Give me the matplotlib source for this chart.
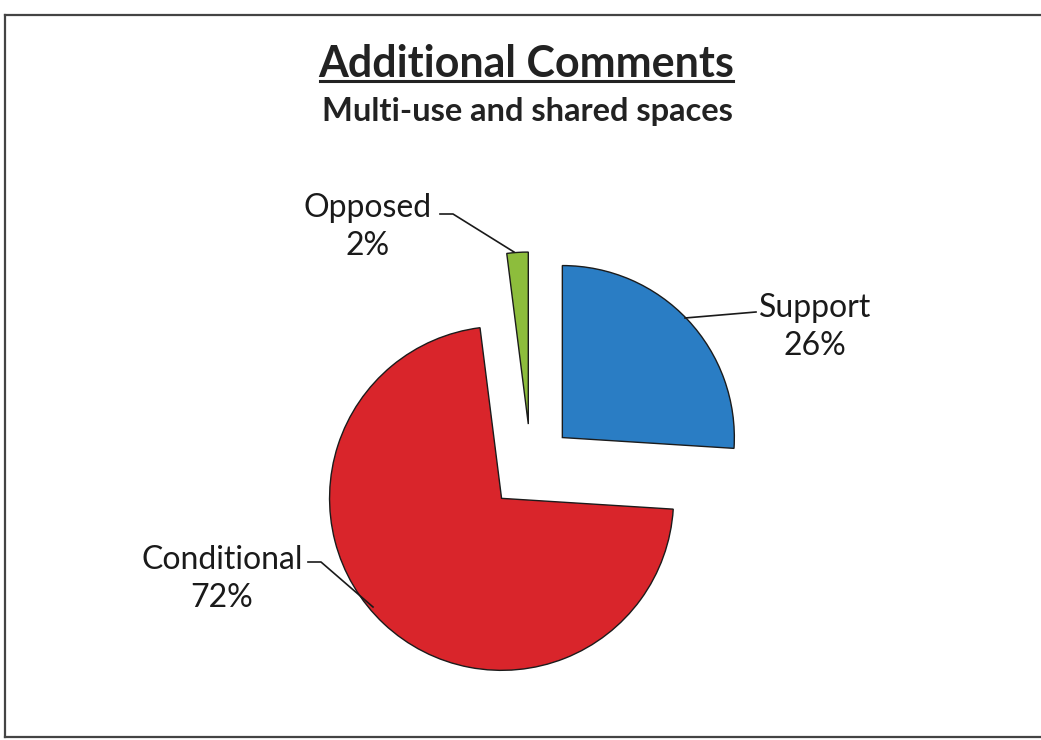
import matplotlib
matplotlib.use("Agg")
import matplotlib.pyplot as plt
from matplotlib.lines import Line2D

categories = ["Support", "Conditional", "Opposed"]
values = [26, 72, 2]
colors = ["#2A7DC4", "#D9252B", "#8DBD3C"]

W, H = 1041, 740
fig = plt.figure(figsize=(W / 100, H / 100), dpi=100)
fig.patch.set_facecolor("white")

# frame (left, top, bottom lines as in the scan)
fig.add_artist(Line2D([5 / W, 5 / W], [1 - 15 / H, 1 - 737 / H], color="#444444", lw=1.6))
fig.add_artist(Line2D([5 / W, 1.0], [1 - 15 / H, 1 - 15 / H], color="#444444", lw=1.6))
fig.add_artist(Line2D([5 / W, 1.0], [1 - 737 / H, 1 - 737 / H], color="#444444", lw=1.6))

# Titles
fig.text(526 / W, 1 - 64 / H, "Additional Comments", ha="center", va="center",
         fontsize=31, fontweight="bold", family="Lato", color="#222222")
fig.add_artist(Line2D([320 / W, 733 / W], [1 - 81 / H, 1 - 81 / H], color="#222222", lw=2.2))
fig.text(527 / W, 1 - 112 / H, "Multi-use and shared spaces", ha="center", va="center",
         fontsize=23.5, fontweight="bold", family="Lato", color="#222222")

# Pie axes: centre at pixel (531, 467), 172 px per unit
cx, cy, ppu = 531, 467, 172
hw, hh = 2.6, 1.6
left = (cx - hw * ppu) / W
bottom = (H - cy - hh * ppu) / H
ax = fig.add_axes([left, bottom, 2 * hw * ppu / W, 2 * hh * ppu / H])

wedges, _ = ax.pie(values, colors=colors, startangle=90, counterclock=False,
                   explode=[0.25, 0.25, 0.25], radius=1.0,
                   wedgeprops=dict(edgecolor="#1b1b1b", linewidth=1.0))
ax.set_xlim(-hw, hw)
ax.set_ylim(-hh, hh)
ax.set_aspect("equal")
ax.axis("off")

def px(x, y):
    return (x - cx) / ppu, (cy - y) / ppu

lab_font = dict(fontsize=23, family="Lato", color="#1a1a1a", ha="center", va="center",
                linespacing=1.3)

# Support label
tx, ty = px(815, 327)
ax.text(tx, ty, f"{categories[0]}\n{values[0]}%", **lab_font)
x0, y0 = px(756, 312)
x1, y1 = px(685, 318)
ax.plot([x0, x1], [y0, y1], color="#1a1a1a", lw=1.2)

# Opposed label
tx, ty = px(368, 227)
ax.text(tx, ty, f"{categories[2]}\n{values[2]}%", **lab_font)
pts = [px(440, 214), px(453, 214), px(514, 252)]
ax.plot([p[0] for p in pts], [p[1] for p in pts], color="#1a1a1a", lw=1.2)

# Conditional label
tx, ty = px(222, 579)
ax.text(tx, ty, f"{categories[1]}\n{values[1]}%", **lab_font)
pts = [px(308, 562), px(321, 562), px(373, 607)]
ax.plot([p[0] for p in pts], [p[1] for p in pts], color="#1a1a1a", lw=1.2)

fig.savefig("out.png", dpi=100, facecolor="white")
